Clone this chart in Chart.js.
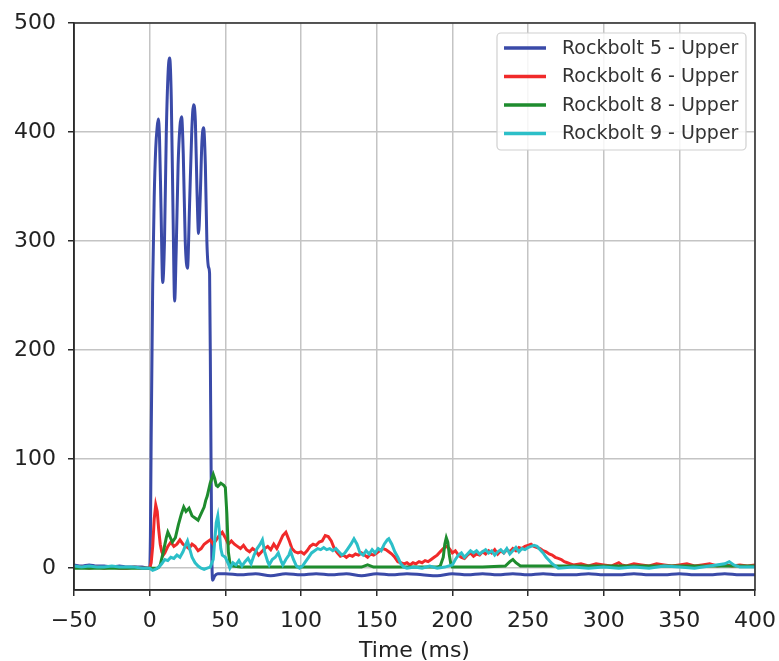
<!DOCTYPE html>
<html>
<head>
<meta charset="utf-8">
<script src="https://cdn.jsdelivr.net/npm/chart.js@4"></script>
<style>
  body { margin: 0; background: #fff; }
  canvas { display: block; }
</style>
</head>
<body>
<canvas id="chart" width="779" height="661"></canvas>
<script>
// series names and colours (matplotlib b, r, g, c look)
const seriesNames = ['Rockbolt 5 - Upper', 'Rockbolt 6 - Upper', 'Rockbolt 8 - Upper', 'Rockbolt 9 - Upper'];
const seriesColors = ['#3a4aa8', '#f02a2a', '#1e8c2e', '#2cbfc8'];

const xTicks = [-50, 0, 50, 100, 150, 200, 250, 300, 350, 400];
const yTicks = [0, 100, 200, 300, 400, 500];

// Rockbolt 5
const t5 = [-50, -45, -40, -35, -30, -25, -20, -15, -10, -5, -1, 0, 0.5, 1, 2, 3, 4, 5, 5.7, 6.5, 7.5, 8.6, 9.8, 11, 12.2, 13.2,
  14.3, 15.5, 16.5, 17.5, 18.8, 20, 21.1, 22.2, 23.5, 25, 26.3, 27.8, 29, 30.2, 31.3, 32.3, 33.4, 34.5, 35.6, 36.8, 37.8, 38.9,
  39.6, 40.3, 41, 41.6, 43, 45, 50, 60, 70, 80, 90, 100, 110, 120, 130, 140, 150, 160, 170, 180, 190, 200, 210, 220, 230, 240,
  250, 260, 270, 280, 290, 300, 310, 320, 330, 340, 350, 360, 370, 380, 390, 400];
const v5 = [3, 2, 3, 2, 2, 1, 2, 1, 1, 1, 0, 0, 30, 120, 260, 340, 385, 405, 412, 395, 330, 262, 300, 400, 455, 468,
  430, 320, 245, 290, 370, 405, 414, 380, 300, 275, 330, 400, 425, 410, 345, 307, 340, 390, 404, 370, 300, 276,
  270, 150, 20, -11, -7, -5, -5, -6, -5, -7, -5, -6, -5, -6, -5, -7, -5, -6, -5, -6, -7, -5, -6, -5, -6, -5,
  -6, -5, -6, -6, -5, -6, -6, -5, -6, -6, -5, -6, -6, -5, -6, -6];

// Rockbolt 6
const t6 = [-50, -45, -40, -35, -30, -25, -20, -15, -10, -5, 0, 1, 2, 3, 4, 5, 6, 7, 8, 9, 10, 12, 14, 16, 18, 20, 22, 24, 26, 28,
  30, 32, 34, 36, 38, 40, 42, 44, 46, 48, 50, 52, 54, 56, 58, 60, 62, 64, 66, 68, 70, 72, 74, 76, 78, 80, 82, 84, 86, 88,
  90, 92, 94, 96, 98, 100, 102, 104, 106, 108, 110, 112, 114, 116, 118, 120, 122, 124, 126, 128, 130, 132, 134, 136, 138,
  140, 142, 144, 146, 148, 150, 152, 154, 156, 158, 160, 162, 164, 166, 168, 170, 172, 174, 176, 178, 180, 182, 184, 186,
  188, 190, 192, 194, 196, 198, 200, 202, 204, 206, 208, 210, 212, 214, 216, 218, 220, 222, 224, 226, 228, 230, 232, 234,
  236, 238, 240, 242, 244, 246, 248, 250, 252, 254, 256, 258, 260, 262, 264, 266, 268, 270, 272, 274, 276, 278, 280, 285,
  290, 295, 300, 305, 310, 312, 315, 320, 325, 330, 335, 340, 345, 350, 355, 360, 365, 370, 375, 380, 385, 390, 395, 400];
const v6 = [1, 1, 0, 1, 0, 1, 0, 0, 1, 0, 0, 5, 20, 45, 58, 52, 35, 22, 15, 12, 14, 20, 24, 20, 22, 26, 22, 20, 18, 22,
  20, 16, 18, 22, 24, 26, 22, 26, 30, 33, 28, 22, 25, 22, 20, 18, 21, 17, 15, 18, 16, 12, 15, 18, 20, 17, 22, 18, 24, 30,
  33, 26, 18, 15, 14, 15, 13, 16, 20, 22, 21, 24, 25, 30, 29, 25, 18, 14, 11, 12, 10, 12, 11, 13, 12,
  14, 12, 10, 13, 12, 14, 16, 18, 17, 15, 13, 10, 6, 5, 4, 5, 3, 5, 4, 6, 5, 7, 6, 8,
  10, 12, 15, 18, 20, 18, 14, 16, 12, 10, 9, 12, 14, 11, 13, 12, 15, 13, 16, 14, 17, 13, 16, 14,
  17, 15, 18, 16, 19, 18, 20, 21, 22, 20, 19, 18, 16, 15, 13, 12, 10, 9, 8, 6, 5, 4, 3, 4,
  2, 4, 3, 2, 5, 3, 2, 4, 3, 2, 4, 3, 2, 3, 4, 2, 3, 4, 2, 3, 2, 3, 2, 3];

// Rockbolt 8
const t8 = [-50, -40, -30, -20, -10, 0, 5, 6, 7, 9, 11, 12, 13, 15, 17, 19, 21, 22.5, 24, 26, 28, 30, 32, 34, 36, 37, 38, 40,
  42, 43, 44, 45, 47, 49, 50, 51, 52, 53, 55, 60, 80, 100, 120, 140, 144, 148, 160, 180, 190, 192, 194, 195, 196, 197, 198,
  199, 200, 220, 235, 238, 240, 242, 245, 260, 280, 300, 320, 340, 360, 380, 400];
const v8 = [0, 0, 0, 0, 0, 0, 0, 1, 3, 15, 28, 33, 30, 24, 28, 40, 50, 56, 52, 55, 48, 46, 44, 50, 56, 62, 66, 78,
  86, 82, 76, 75, 78, 76, 74, 50, 15, 5, 2, 1, 1, 1, 1, 1, 3, 1, 1, 1, 1, 2, 10, 22, 28, 24, 12,
  4, 1, 1, 2, 6, 8, 5, 2, 2, 2, 2, 2, 2, 2, 2, 2];

// Rockbolt 9
const t9 = [-50, -45, -40, -35, -30, -25, -20, -15, -10, -5, 0, 2, 4, 6, 8, 10, 12, 14, 16, 18, 20, 22, 24, 25, 26, 28, 30, 32,
  34, 36, 38, 40, 42, 43, 44, 45, 46, 47, 48, 50, 52, 53, 55, 57, 59, 61, 63, 65, 67, 69, 71, 73, 74.5, 76, 78, 79, 81, 83,
  85, 87, 88, 90, 92, 93, 95, 97, 99, 101, 103, 105, 107, 109, 111, 113, 115, 117, 119, 121, 123, 125, 127, 129, 131, 133,
  135, 137, 139, 141, 143, 145, 147, 149, 151, 153, 155, 157, 158, 160, 162, 164, 166, 168, 170, 175, 180, 185, 190, 195,
  200, 202, 204, 206, 208, 210, 212, 214, 216, 218, 220, 222, 224, 226, 228, 230, 232, 234, 236, 238, 240, 242, 244, 246,
  248, 250, 252, 254, 256, 258, 260, 262, 264, 266, 268, 270, 280, 290, 300, 310, 320, 330, 340, 350, 360, 370, 380, 383,
  386, 390, 400];
const v9 = [2, 1, 2, 1, 1, 2, 1, 1, 1, 0, 0, -2, -1, 1, 4, 8, 7, 10, 9, 12, 10, 15, 22, 25, 20, 10, 5, 2,
  0, -1, 0, 1, 8, 25, 42, 48, 35, 18, 12, 10, 4, 0, 5, 3, 7, 2, 6, 9, 4, 12, 18, 22, 26, 15, 6, 3, 8, 10,
  14, 6, 3, 8, 12, 16, 8, 2, 0, 2, 6, 10, 14, 16, 18, 17, 19, 17, 18, 16, 18, 15, 12, 14, 18, 22,
  27, 22, 14, 12, 16, 13, 17, 14, 18, 16, 22, 26, 27, 22, 15, 10, 4, 1, 0, 1, 0, 2, 0, 1,
  3, 8, 12, 14, 10, 13, 16, 14, 16, 13, 15, 17, 14, 16, 12, 15, 17, 14, 18, 13, 16, 19, 15, 18,
  17, 19, 20, 21, 20, 17, 14, 10, 7, 4, 2, 0, 1, 0, 1, 0, 1, 0, 2, 1, 0, 2, 4, 6,
  3, 1, 1];

const seriesTimes = [t5, t6, t8, t9];
const seriesValues = [v5, v6, v8, v9];

const font = 'DejaVu Sans';

// draws the box around the plot and the legend in the upper right corner
const frameAndLegend = {
  id: 'frameAndLegend',
  afterDatasetsDraw(chart) {
    const { ctx, chartArea: a } = chart;
    ctx.save();
    ctx.strokeStyle = '#2b2b2b';
    ctx.lineWidth = 1.5;
    ctx.strokeRect(a.left, a.top, a.right - a.left, a.bottom - a.top);

    const boxW = 249, boxH = 117;
    const bx = a.right - 9 - boxW, by = a.top + 10;
    ctx.beginPath();
    ctx.roundRect(bx, by, boxW, boxH, 4);
    ctx.fillStyle = 'rgba(255,255,255,0.85)';
    ctx.fill();
    ctx.strokeStyle = '#d0d0d0';
    ctx.lineWidth = 1.2;
    ctx.stroke();

    ctx.font = '19px "' + font + '"';
    ctx.textBaseline = 'middle';
    ctx.textAlign = 'left';
    seriesNames.forEach((name, i) => {
      const y = by + 15 + i * 28.5;
      ctx.strokeStyle = seriesColors[i];
      ctx.lineWidth = 3.5;
      ctx.beginPath();
      ctx.moveTo(bx + 7, y);
      ctx.lineTo(bx + 49, y);
      ctx.stroke();
      ctx.fillStyle = '#333';
      ctx.fillText(name, bx + 65, y + 1);
    });
    ctx.restore();
  }
};

new Chart(document.getElementById('chart'), {
  type: 'line',
  data: {
    datasets: seriesNames.map((name, i) => ({
      label: name,
      data: seriesTimes[i].map((t, k) => ({ x: t, y: seriesValues[i][k] })),
      borderColor: seriesColors[i],
      borderWidth: 3,
      pointRadius: 0,
      tension: 0,
      cubicInterpolationMode: i === 0 ? 'monotone' : 'default',
      fill: false,
      order: seriesNames.length - i
    }))
  },
  options: {
    responsive: false,
    animation: false,
    layout: { padding: { top: 23, right: 24, left: 0, bottom: 0 } },
    plugins: {
      legend: { display: false },
      tooltip: { enabled: false }
    },
    scales: {
      x: {
        type: 'linear',
        min: -50,
        max: 400,
        afterBuildTicks: (s) => { s.ticks = xTicks.map(v => ({ value: v })); },
        afterFit: (s) => { s.height = 71; s.paddingLeft = 0; s.paddingRight = 0; },
        grid: { color: '#c4c4c4', lineWidth: 1.5, tickLength: 6, tickColor: '#2b2b2b', tickWidth: 1.5 },
        border: { color: '#2b2b2b', width: 1.5 },
        ticks: {
          color: '#222', font: { family: font, size: 22 }, padding: 12, maxRotation: 0,
          callback: (v) => String(v).replace('-', '\u2212')
        },
        title: { display: true, text: 'Time (ms)', color: '#222', font: { family: font, size: 22 }, padding: { top: 0, bottom: -3 } }
      },
      y: {
        min: -20,
        max: 500,
        afterBuildTicks: (s) => { s.ticks = yTicks.map(v => ({ value: v })); },
        afterFit: (s) => { s.width = 74; s.paddingTop = 0; s.paddingBottom = 0; },
        grid: { color: '#c4c4c4', lineWidth: 1.5, tickLength: 6, tickColor: '#2b2b2b', tickWidth: 1.5 },
        border: { color: '#2b2b2b', width: 1.5 },
        ticks: { color: '#222', font: { family: font, size: 22 }, padding: 12 }
      }
    }
  },
  plugins: [frameAndLegend]
});
</script>
</body>
</html>
